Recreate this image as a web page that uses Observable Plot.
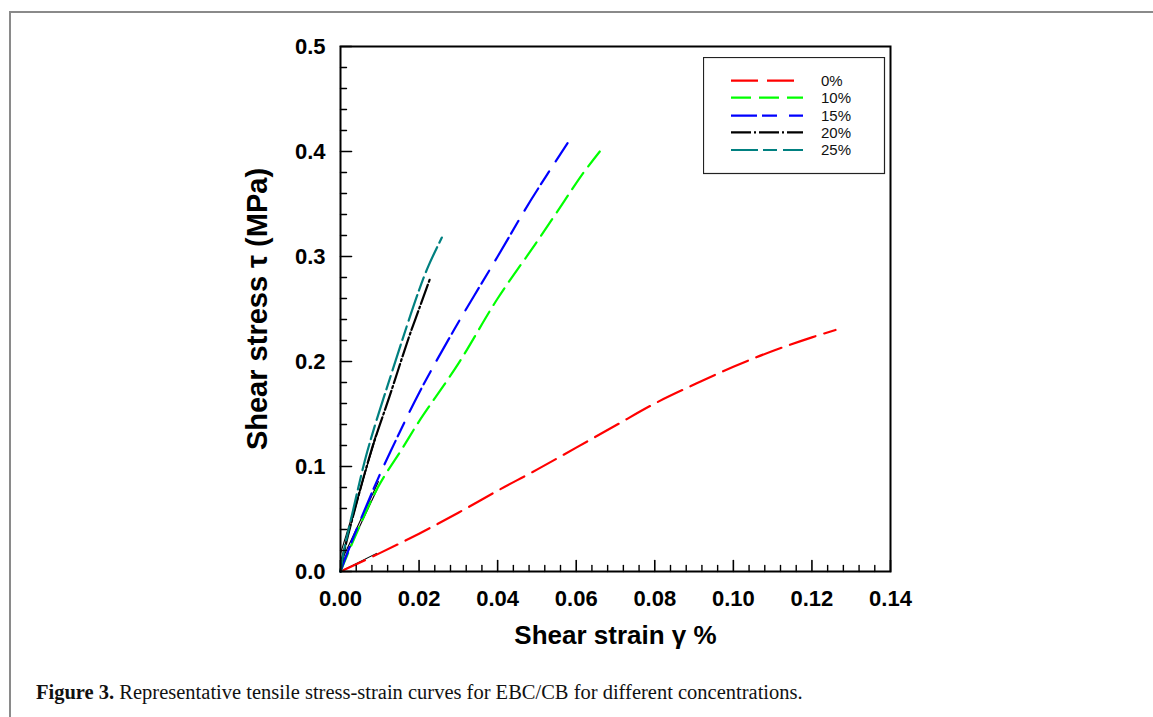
<!DOCTYPE html>
<html><head><meta charset="utf-8">
<script src="https://cdn.jsdelivr.net/npm/d3@7"></script>
<script src="https://cdn.jsdelivr.net/npm/@observablehq/plot@0.6"></script>
<style>
html,body{margin:0;padding:0;background:#fff;}
#wrap{position:relative;width:1153px;height:717px;overflow:hidden;background:#fff;}
#border{position:absolute;left:9px;top:11px;width:1300px;height:900px;border-top:2px solid #8a8a8a;border-left:2px solid #8a8a8a;z-index:5;pointer-events:none;}
#chart{position:absolute;left:0;top:0;}
#legend{position:absolute;left:703px;top:57px;}
#caption{position:absolute;left:36px;top:682px;font-family:"Liberation Serif","Times New Roman",serif;font-size:20.5px;line-height:20px;color:#111;white-space:nowrap;}
#chart g[aria-label="x-axis tick label"], #chart g[aria-label="y-axis tick label"]{font-size:22px;font-weight:bold;font-family:"Liberation Sans",Arial,sans-serif;}
</style></head>
<body><div id="wrap"><div id="chart"></div><div id="legend"></div>
<div id="caption"><b>Figure 3.</b> Representative tensile stress-strain curves for EBC/CB for different concentrations.</div><div id="border"></div></div>
<script>
// ---- data ----
const seriesNames = ["0%", "10%", "15%", "20%", "25%"];
const seriesColors = ["#ff0000", "#00ff00", "#0000ff", "#000000", "#008080"];
const seriesDash = ["27,9", "20,8", "26,5,15,12", "20,3,2,3", "27,5,14,6"];

const strain0 = [0, 0.01, 0.02, 0.03, 0.04, 0.05, 0.06, 0.07, 0.08, 0.09, 0.10, 0.11, 0.12, 0.126];
const stress0 = [0, 0.0175, 0.036, 0.056, 0.077, 0.097, 0.118, 0.139, 0.16, 0.178, 0.195, 0.21, 0.223, 0.23];

const strain10 = [0, 0.003, 0.0095, 0.0157, 0.02, 0.03, 0.04, 0.05, 0.057, 0.0615, 0.066];
const stress10 = [0, 0.027, 0.080, 0.117, 0.143, 0.198, 0.26, 0.314, 0.353, 0.378, 0.400];

const strain15 = [0, 0.003, 0.0095, 0.0127, 0.02, 0.0288, 0.04, 0.0484, 0.0578];
const stress15 = [0, 0.03, 0.088, 0.114, 0.17, 0.2295, 0.30, 0.3533, 0.408];

const strain20 = [0, 0.001, 0.003, 0.008, 0.0125, 0.0174, 0.02, 0.0227];
const stress20 = [0, 0.02, 0.05, 0.117, 0.167, 0.223, 0.25, 0.278];

const strain25 = [0, 0.001, 0.003, 0.0068, 0.0131, 0.02, 0.0225, 0.0258];
const stress25 = [0, 0.022, 0.055, 0.114, 0.19, 0.268, 0.292, 0.318];

// thin black initial-slope lines near the origin
const fitX1 = [0, 0, 0, 0, 0];
const fitY1 = [0, 0.004, 0.008, 0.009, 0.017];
const fitX2 = [0.0093, 0.0093, 0.0097, 0.0089, 0.00975];
const fitY2 = [0.0175, 0.078, 0.086, 0.1295, 0.137];

const xTickValues = [0, 0.02, 0.04, 0.06, 0.08, 0.10, 0.12, 0.14];
const yTickValues = [0, 0.1, 0.2, 0.3, 0.4, 0.5];
const xTitle = "Shear strain γ %";
const yTitle = "Shear stress τ (MPa)";

// ---- build ----
const strains = [strain0, strain10, strain15, strain20, strain25];
const stresses = [stress0, stress10, stress15, stress20, stress25];
const seriesRows = seriesNames.map((name, i) => strains[i].map((x, j) => ({series: name, strain: x, stress: stresses[i][j]})));
const fits = fitX1.map((_, i) => ({x1: fitX1[i], y1: fitY1[i], x2: fitX2[i], y2: fitY2[i]}));

const xMinor = d3.range(0, 35).map(i => +(i * 0.004).toFixed(3)).filter(v => Math.round(v * 1000) % 20 !== 0);
const yMinor = d3.range(0, 25).map(i => +(i * 0.02).toFixed(2)).filter(v => Math.round(v * 100) % 10 !== 0);

const tickShape = {draw(context, l) { context.moveTo(0, 0); context.lineTo(0, -l); }};

const marks = [
  Plot.link(fits, {x1: "x1", y1: "y1", x2: "x2", y2: "y2", stroke: "black", strokeWidth: 1.1}),
  ...seriesRows.map((rows, i) => Plot.line(rows, {x: "strain", y: "stress", stroke: seriesColors[i], strokeWidth: 2.2, strokeDasharray: seriesDash[i], curve: "catmull-rom"})),
  Plot.vector(xTickValues, {x: d => d, y: () => 0, length: 11, rotate: 0, anchor: "start", shape: tickShape, stroke: "black", strokeWidth: 1.6}),
  Plot.vector(xMinor, {x: d => d, y: () => 0, length: 6, rotate: 0, anchor: "start", shape: tickShape, stroke: "black", strokeWidth: 1.4}),
  Plot.vector(yTickValues, {x: () => 0, y: d => d, length: 11, rotate: 90, anchor: "start", shape: tickShape, stroke: "black", strokeWidth: 1.6}),
  Plot.vector(yMinor, {x: () => 0, y: d => d, length: 6, rotate: 90, anchor: "start", shape: tickShape, stroke: "black", strokeWidth: 1.4}),
  Plot.axisX(xTickValues, {tickSize: 0, tickPadding: 19, tickFormat: d3.format(".2f"), label: null, fontSize: 22, fontWeight: "bold"}),
  Plot.axisY(yTickValues, {tickSize: 0, tickPadding: 15, tickFormat: d3.format(".1f"), label: null, fontSize: 22, fontWeight: "bold"}),
  Plot.text([xTitle], {frameAnchor: "bottom", dy: 64, fontSize: 26, fontWeight: "bold", textAnchor: "middle", lineAnchor: "middle", fill: "black"}),
  Plot.text([yTitle], {frameAnchor: "left", dx: -83, rotate: -90, fontSize: 29, fontWeight: "bold", textAnchor: "middle", lineAnchor: "middle", fill: "black"}),
  Plot.frame({stroke: "black", strokeWidth: 2})
];

const chart = Plot.plot({
  width: 1153, height: 660,
  marginLeft: 340, marginRight: 263, marginTop: 46, marginBottom: 89,
  x: {domain: [0, 0.14]},
  y: {domain: [0, 0.5]},
  style: {background: "transparent", fontFamily: "'Liberation Sans', Arial, sans-serif", color: "black"},
  marks
});
document.getElementById("chart").appendChild(chart);

// ---- legend ----
const lg = d3.select("#legend").append("svg").attr("width", 183).attr("height", 118);
lg.append("rect").attr("x", 0.5).attr("y", 0.5).attr("width", 181).attr("height", 116)
  .attr("fill", "white").attr("stroke", "#222").attr("stroke-width", 1.2);
const rowY = [23.7, 40.7, 58.7, 75.3, 93];
seriesNames.forEach((name, i) => {
  lg.append("line").attr("x1", 28).attr("x2", 100).attr("y1", rowY[i]).attr("y2", rowY[i])
    .attr("stroke", seriesColors[i]).attr("stroke-width", 2.2).attr("stroke-dasharray", seriesDash[i]);
  lg.append("text").attr("x", 118).attr("y", rowY[i]).attr("dy", "0.36em")
    .attr("font-family", "'Liberation Sans', Arial, sans-serif").attr("font-size", 15).attr("fill", "#111").text(name);
});
</script>
</body></html>
